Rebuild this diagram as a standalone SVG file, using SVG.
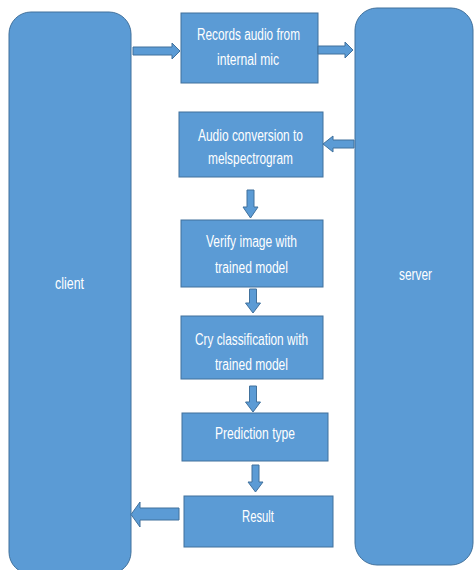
<svg xmlns="http://www.w3.org/2000/svg" width="475" height="570" viewBox="0 0 475 570">
<style>
.n{fill:#5B9BD5;stroke:#41719C;stroke-width:1}
.a{fill:#5B9BD5;stroke:#41719C;stroke-width:1}
text{fill:#ffffff;font-family:"Liberation Sans",Arial,sans-serif;font-size:16px;text-anchor:middle}
</style>
<rect width="475" height="570" fill="#ffffff"/>
<g id="client"><rect class="n" x="9" y="12" width="122" height="562" rx="22"/><text x="69.5" y="289" textLength="29" lengthAdjust="spacingAndGlyphs">client</text></g>
<g id="server"><rect class="n" x="355" y="8" width="118" height="557" rx="22"/><text x="415.5" y="280" textLength="33" lengthAdjust="spacingAndGlyphs">server</text></g>
<g id="record"><rect class="n" x="181" y="13" width="137" height="70"/><text x="248.5" y="40" textLength="103" lengthAdjust="spacingAndGlyphs">Records audio from</text><text x="248" y="65" textLength="62" lengthAdjust="spacingAndGlyphs">internal mic</text></g>
<g id="convert"><rect class="n" x="179" y="112" width="144" height="65"/><text x="250.5" y="141" textLength="105" lengthAdjust="spacingAndGlyphs">Audio conversion to</text><text x="250.5" y="164" textLength="85" lengthAdjust="spacingAndGlyphs">melspectrogram</text></g>
<g id="verify"><rect class="n" x="181" y="220" width="142" height="67"/><text x="251.5" y="247" textLength="91" lengthAdjust="spacingAndGlyphs">Verify image with</text><text x="251.5" y="273" textLength="73" lengthAdjust="spacingAndGlyphs">trained model</text></g>
<g id="classify"><rect class="n" x="181" y="316" width="142" height="63"/><text x="251.5" y="345" textLength="113" lengthAdjust="spacingAndGlyphs">Cry classification with</text><text x="251.5" y="370" textLength="73" lengthAdjust="spacingAndGlyphs">trained model</text></g>
<g id="prediction"><rect class="n" x="182" y="413" width="146" height="48"/><text x="255" y="439" textLength="80" lengthAdjust="spacingAndGlyphs">Prediction type</text></g>
<g id="result"><rect class="n" x="184" y="496" width="149" height="51"/><text x="258" y="522" textLength="32" lengthAdjust="spacingAndGlyphs">Result</text></g>
<g id="connectors">
<polygon class="a" points="133,47 172,47 172,43 180,51 172,59 172,55 133,55"/>
<polygon class="a" points="318,46 345,46 345,42 353,50 345,58 345,54 318,54"/>
<polygon class="a" points="354,140 333,140 333,136 323,144 333,152 333,148 354,148"/>
<polygon class="a" points="247,190 254,190 254,207 258,207 250.5,218 243,207 247,207"/>
<polygon class="a" points="249.5,289 256.5,289 256.5,303 260.5,303 253,313 245.5,303 249.5,303"/>
<polygon class="a" points="249.5,386 256.5,386 256.5,402 260.5,402 253,412 245.5,402 249.5,402"/>
<polygon class="a" points="252,465 259,465 259,482 263,482 255.5,492 248,482 252,482"/>
<polygon class="a" points="179,508 140,508 140,502 131,514.5 140,527 140,520 179,520"/>
</g>
</svg>
